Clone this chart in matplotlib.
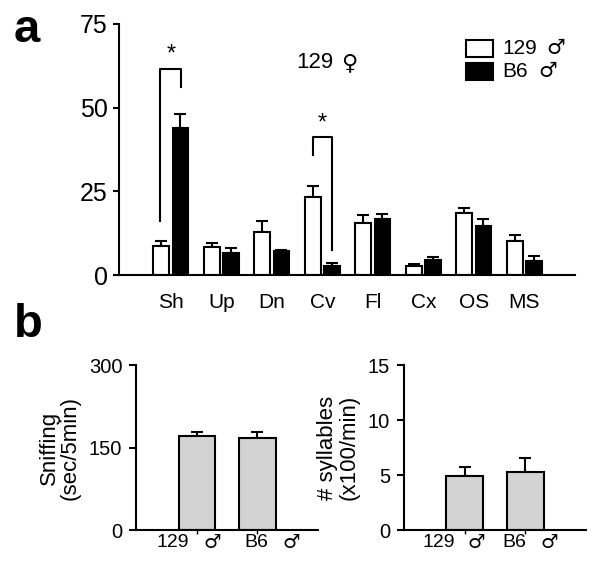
import matplotlib
matplotlib.use("Agg")
import matplotlib.pyplot as plt
from matplotlib.patches import Rectangle
import numpy as np

plt.rcParams['font.family'] = ['Liberation Sans', 'DejaVu Sans']

# Panel a data: behaviour categories, 129 male vs B6 male
categories = ["Sh", "Up", "Dn", "Cv", "Fl", "Cx", "OS", "MS"]
mean_129 = [8.8, 8.3, 12.9, 23.3, 15.5, 2.6, 18.5, 10.2]
err_129 = [1.3, 1.3, 3.1, 3.3, 2.4, 0.8, 1.5, 1.8]
mean_b6 = [43.9, 6.6, 7.2, 2.8, 16.7, 4.5, 14.7, 4.3]
err_b6 = [4.2, 1.4, 0.4, 0.8, 1.5, 0.9, 2.0, 1.4]

# Panel b data
groups_b = ["129", "B6"]
sniff_mean = [172, 167]
sniff_err = [6, 11]
syll_mean = [4.9, 5.3]
syll_err = [0.8, 1.3]

MALE = "\u2642"
FEMALE = "\u2640"
SYM = dict(family="DejaVu Sans", style="italic", weight="light")
LW = 1.5
W, H = 600, 566

fig = plt.figure(figsize=(W / 100, H / 100), dpi=100)


def px(xp, yp):
    # figure fraction from pixel position (top-left origin)
    return xp / W, 1 - yp / H


# ---- panel a ----
ax = fig.add_axes([0.198, 0.514, 0.760, 0.444])
x = np.arange(len(categories))
w = 0.31
off = 0.19
ax.bar(x - off, mean_129, w, color="white", edgecolor="black", linewidth=LW, zorder=2)
ax.bar(x + off, mean_b6, w, color="black", edgecolor="black", linewidth=LW, zorder=2)
ax.errorbar(x - off, mean_129, yerr=[np.zeros(len(x)), err_129], fmt="none",
            ecolor="black", elinewidth=LW, capsize=4, capthick=LW, zorder=1)
ax.errorbar(x + off, mean_b6, yerr=[np.zeros(len(x)), err_b6], fmt="none",
            ecolor="black", elinewidth=LW, capsize=4, capthick=LW, zorder=1)

# significance brackets
ax.plot([-0.21, -0.21, 0.2, 0.2], [16.1, 61.5, 61.5, 56.1], color="black", lw=LW)
ax.text(0.0, 62.5, "*", ha="center", va="bottom", fontsize=17)
ax.plot([2.81, 2.81, 3.2, 3.2], [35.8, 41.2, 41.2, 7.5], color="black", lw=LW)
ax.text(3.0, 42.0, "*", ha="center", va="bottom", fontsize=17)

# "129 female" title
fig.text(*px(333, 63), "129", ha="right", va="center", fontsize=16)
fig.text(*px(341, 63), FEMALE, ha="left", va="center", fontsize=16, **SYM)

ax.set_xlim(-1.03, 8.0)
ax.set_ylim(0, 75)
ax.set_yticks([0, 25, 50, 75])
ax.set_xticks(x)
ax.set_xticklabels(categories, fontsize=15)
ax.tick_params(axis="x", length=0, pad=13)
ax.tick_params(axis="y", labelsize=18, width=LW, length=4, pad=4)
for s in ["top", "right"]:
    ax.spines[s].set_visible(False)
for s in ["left", "bottom"]:
    ax.spines[s].set_linewidth(LW)

# legend, drawn by hand
for i, (fc, lab) in enumerate([("white", "129"), ("black", "B6")]):
    x0, y0 = px(466, 57 + i * 22.5)
    fig.patches.append(Rectangle((x0, y0), 27 / W, 17 / H, transform=fig.transFigure,
                                 facecolor=fc, edgecolor="black", linewidth=LW))
    fig.text(*px(502, 48.5 + i * 23), lab, ha="left", va="center", fontsize=15)
fig.text(*px(546, 48), MALE, ha="left", va="center", fontsize=15, **SYM)
fig.text(*px(538, 71), MALE, ha="left", va="center", fontsize=15, **SYM)

fig.text(*px(14, 42), "a", fontsize=34, fontweight="bold", va="baseline")
fig.text(*px(14, 337), "b", fontsize=34, fontweight="bold", va="baseline")


def small_panel(rect, means, errs, ymax, yticks, ylabel, lab_dx, sym_dx):
    bx = fig.add_axes(rect)
    xb = np.arange(len(means))
    bx.bar(xb, means, 0.6, color="#d3d3d3", edgecolor="black", linewidth=LW, zorder=2)
    bx.errorbar(xb, means, yerr=[np.zeros(len(xb)), errs], fmt="none", ecolor="black",
                elinewidth=LW, capsize=4, capthick=LW, zorder=1)
    bx.set_xlim(-1.0, 2.0)
    bx.set_ylim(0, ymax)
    bx.set_yticks(yticks)
    bx.set_xticks(xb)
    bx.set_xticklabels([])
    for i, g in enumerate(groups_b):
        bx.annotate(g, (xb[i], 0), xycoords=("data", "axes fraction"),
                    xytext=(lab_dx[i], -4), textcoords="offset pixels",
                    ha="right", va="top", fontsize=14)
        bx.annotate(MALE, (xb[i], 0), xycoords=("data", "axes fraction"),
                    xytext=(sym_dx[i], -3), textcoords="offset pixels",
                    ha="left", va="top", fontsize=14, **SYM)
    bx.tick_params(axis="x", length=3, width=1)
    bx.tick_params(axis="y", labelsize=14.5, width=LW, length=5, pad=5)
    bx.set_ylabel(ylabel, fontsize=16, linespacing=1.0, labelpad=6)
    for s in ["top", "right"]:
        bx.spines[s].set_visible(False)
    for s in ["left", "bottom"]:
        bx.spines[s].set_linewidth(LW)
    return bx


small_panel([0.227, 0.0636, 0.303, 0.291], sniff_mean, sniff_err, 300, [0, 150, 300],
            "Sniffing\n(sec/5min)", [-8, 11], [7, 25])
small_panel([0.673, 0.0636, 0.304, 0.291], syll_mean, syll_err, 15, [0, 5, 10, 15],
            "# syllables\n(x100/min)", [-10, 1], [3, 15])

fig.savefig("out.png", dpi=100)
